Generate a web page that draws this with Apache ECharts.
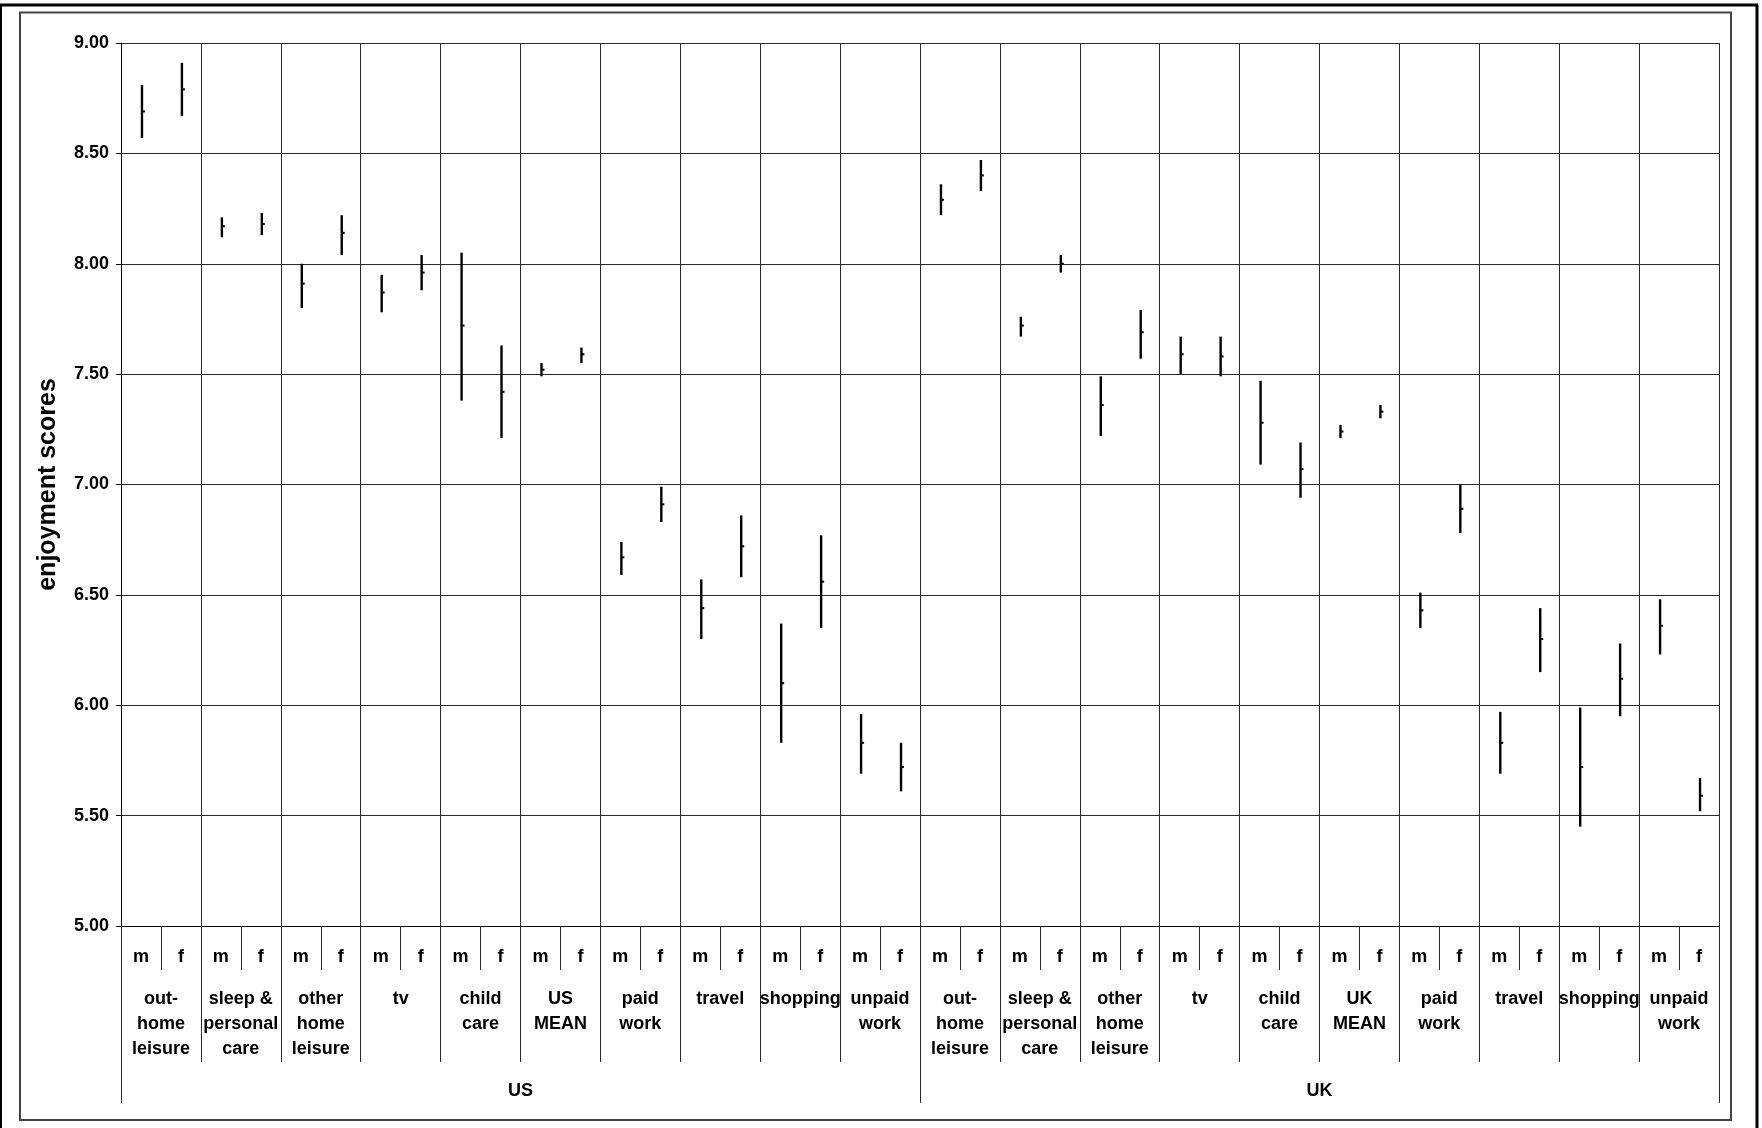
<!DOCTYPE html>
<html>
<head>
<meta charset="utf-8">
<title>Enjoyment scores by activity and sex, US and UK</title>
<script src="https://cdn.jsdelivr.net/npm/echarts@6/dist/echarts.min.js"></script>
<style>
  html, body { margin: 0; padding: 0; background: #fff; }
  #chart { width: 1762px; height: 1128px; }
</style>
</head>
<body>
<div id="chart"></div>
<script>
// Country groups, activity groups within each country, and sex within each activity
const countries = ['US', 'UK'];
const activitiesUS = ['out-\nhome\nleisure', 'sleep &\npersonal\ncare', 'other\nhome\nleisure', 'tv', 'child\ncare',
  'US\nMEAN', 'paid\nwork', 'travel', 'shopping', 'unpaid\nwork'];
const activitiesUK = ['out-\nhome\nleisure', 'sleep &\npersonal\ncare', 'other\nhome\nleisure', 'tv', 'child\ncare',
  'UK\nMEAN', 'paid\nwork', 'travel', 'shopping', 'unpaid\nwork'];
const sexes = ['m', 'f'];

// Confidence range (high / low) and mean enjoyment score, m then f for each activity
const highUS = [8.81, 8.91, 8.21, 8.23, 8.00, 8.22, 7.95, 8.04, 8.05, 7.63, 7.55, 7.62, 6.74, 6.99, 6.57, 6.86, 6.37, 6.77, 5.96, 5.83];
const lowUS  = [8.57, 8.67, 8.12, 8.13, 7.80, 8.04, 7.78, 7.88, 7.38, 7.21, 7.49, 7.55, 6.59, 6.83, 6.30, 6.58, 5.83, 6.35, 5.69, 5.61];
const meanUS = [8.69, 8.79, 8.17, 8.18, 7.91, 8.14, 7.87, 7.96, 7.72, 7.42, 7.52, 7.59, 6.67, 6.91, 6.44, 6.72, 6.10, 6.56, 5.83, 5.72];
const highUK = [8.36, 8.47, 7.76, 8.04, 7.49, 7.79, 7.67, 7.67, 7.47, 7.19, 7.27, 7.36, 6.51, 7.00, 5.97, 6.44, 5.99, 6.28, 6.48, 5.67];
const lowUK  = [8.22, 8.33, 7.67, 7.96, 7.22, 7.57, 7.50, 7.49, 7.09, 6.94, 7.21, 7.30, 6.35, 6.78, 5.69, 6.15, 5.45, 5.95, 6.23, 5.52];
const meanUK = [8.29, 8.40, 7.72, 8.00, 7.36, 7.69, 7.59, 7.58, 7.28, 7.07, 7.24, 7.33, 6.43, 6.89, 5.83, 6.30, 5.72, 6.12, 6.36, 5.59];

// Value axis
const yMin = 5, yMax = 9, yStep = 0.5;

// Build the flat category list and the [index, low, high, mean] rows
const sexLabels = [];
activitiesUS.concat(activitiesUK).forEach(() => sexes.forEach(s => sexLabels.push(s)));
const activityLabels = activitiesUS.concat(activitiesUK);
const highAll = highUS.concat(highUK);
const lowAll = lowUS.concat(lowUK);
const meanAll = meanUS.concat(meanUK);
const rows = highAll.map((h, i) => [i, lowAll[i], h, meanAll[i]]);

const FONT = '"Liberation Sans", Arial, sans-serif';
const INK = '#000';
const RULE = '#2a2a2a';

const gridBox = { left: 121, top: 43, right: 43, bottom: 202 };

const chart = echarts.init(document.getElementById('chart'), null, { renderer: 'canvas' });

chart.setOption({
  backgroundColor: '#fff',
  animation: false,
  textStyle: { fontFamily: FONT },
  grid: [
    Object.assign({}, gridBox),
    Object.assign({}, gridBox),
    Object.assign({}, gridBox)
  ],
  xAxis: [
    {
      // sex row
      type: 'category', gridIndex: 0, data: sexLabels, position: 'bottom',
      boundaryGap: true,
      axisLine: { show: true, lineStyle: { color: INK, width: 1 } },
      axisTick: { show: true, interval: 0, length: 44, lineStyle: { color: RULE, width: 1 } },
      axisLabel: { interval: 0, margin: 22, fontSize: 18, fontWeight: 'bold', color: INK, lineHeight: 18, fontFamily: FONT },
      splitLine: { show: false }
    },
    {
      // activity row, also carries the vertical grid lines
      type: 'category', gridIndex: 1, data: activityLabels, position: 'bottom',
      boundaryGap: true,
      axisLine: { show: false },
      axisTick: { show: true, interval: 0, length: 136, lineStyle: { color: RULE, width: 1 } },
      axisLabel: { interval: 0, margin: 61, fontSize: 18, fontWeight: 'bold', color: INK, lineHeight: 25, fontFamily: FONT, align: 'center' },
      splitLine: { show: true, interval: 0, lineStyle: { color: RULE, width: 1 } }
    },
    {
      // country row
      type: 'category', gridIndex: 2, data: countries, position: 'bottom',
      boundaryGap: true,
      axisLine: { show: false },
      axisTick: { show: true, interval: 0, length: 177, lineStyle: { color: RULE, width: 1 } },
      axisLabel: { interval: 0, margin: 156, fontSize: 18, fontWeight: 'bold', color: INK, lineHeight: 18, fontFamily: FONT },
      splitLine: { show: false }
    }
  ],
  yAxis: [
    {
      type: 'value', gridIndex: 0, min: yMin, max: yMax, interval: yStep,
      name: 'enjoyment scores', nameLocation: 'middle', nameGap: 60, nameRotate: 90,
      nameTextStyle: { fontSize: 25, fontWeight: 'bold', color: INK, fontFamily: FONT },
      axisLine: { show: true, lineStyle: { color: INK, width: 1 } },
      axisTick: { show: true, length: 5, lineStyle: { color: INK, width: 1 } },
      axisLabel: { margin: 12, fontSize: 18, fontWeight: 'bold', color: INK, fontFamily: FONT,
        formatter: v => v.toFixed(2) },
      splitLine: { show: true, lineStyle: { color: RULE, width: 1 } }
    },
    { type: 'value', gridIndex: 1, min: yMin, max: yMax, show: false },
    { type: 'value', gridIndex: 2, min: yMin, max: yMax, show: false }
  ],
  series: [
    {
      // high-low-mean marks: vertical range line with a short tick at the mean
      type: 'custom',
      xAxisIndex: 0, yAxisIndex: 0,
      data: rows,
      encode: { x: 0, y: [1, 2, 3] },
      renderItem: function (params, api) {
        const idx = api.value(0);
        const lo = api.coord([idx, api.value(1)]);
        const hi = api.coord([idx, api.value(2)]);
        const md = api.coord([idx, api.value(3)]);
        return {
          type: 'group',
          children: [
            { type: 'line', shape: { x1: lo[0] + 1, y1: lo[1], x2: hi[0] + 1, y2: hi[1] },
              style: { stroke: INK, lineWidth: 2.4 } },
            { type: 'line', shape: { x1: md[0] + 1, y1: md[1], x2: md[0] + 4, y2: md[1] },
              style: { stroke: INK, lineWidth: 2 } }
          ]
        };
      }
    }
  ],
  graphic: [
    // chart area frame
    { type: 'rect', shape: { x: 20, y: 12.5, width: 1711, height: 1107.5 },
      style: { fill: 'none', stroke: '#444', lineWidth: 2 }, silent: true },
    // outer page frame
    { type: 'line', shape: { x1: 0, y1: 5, x2: 1758, y2: 5 }, style: { stroke: INK, lineWidth: 3 }, silent: true },
    { type: 'line', shape: { x1: 1, y1: 5, x2: 1, y2: 1128 }, style: { stroke: INK, lineWidth: 2 }, silent: true },
    { type: 'line', shape: { x1: 1757, y1: 5, x2: 1757, y2: 1128 }, style: { stroke: INK, lineWidth: 3 }, silent: true }
  ]
});
</script>
</body>
</html>
